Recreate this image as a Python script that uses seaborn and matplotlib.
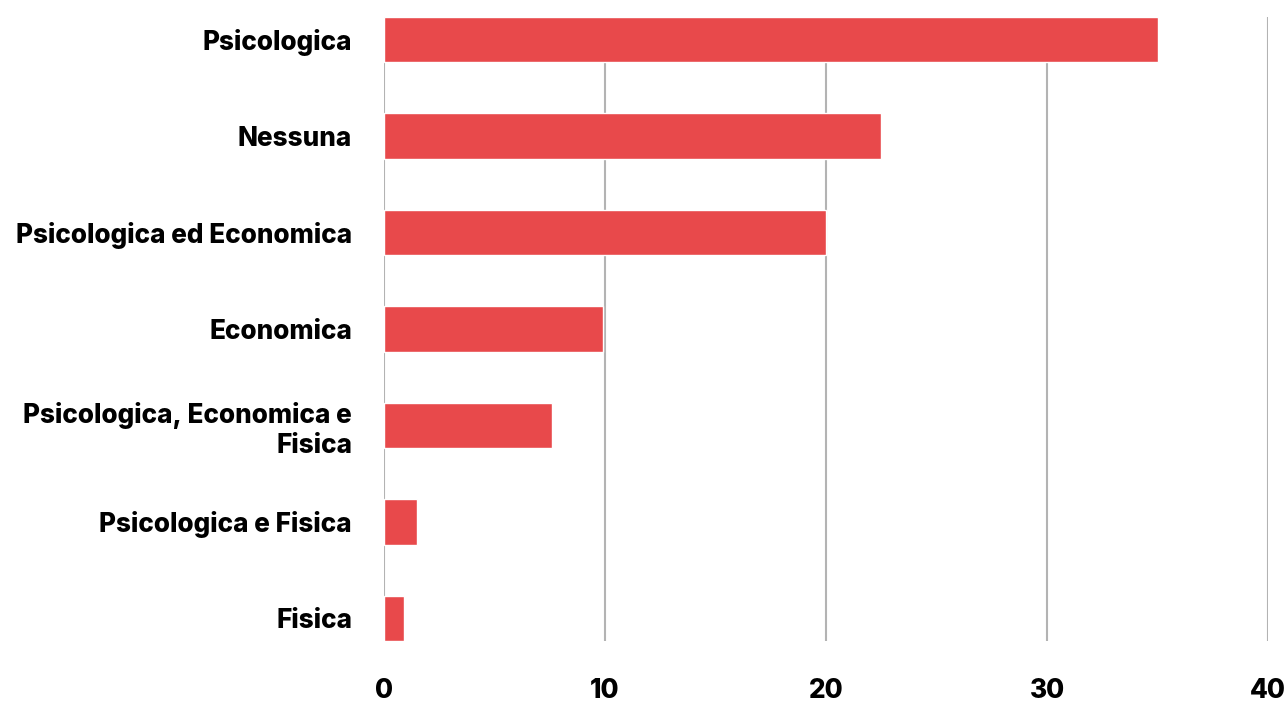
import matplotlib
matplotlib.use("Agg")
import matplotlib.pyplot as plt
import seaborn as sns
import pandas as pd

categories = ["Psicologica", "Nessuna", "Psicologica ed Economica", "Economica",
              "Psicologica, Economica e\nFisica", "Psicologica e Fisica", "Fisica"]
values = [35.0, 22.5, 20.0, 9.9, 7.6, 1.5, 0.9]
xticks = [0, 10, 20, 30, 40]

df = pd.DataFrame({"cat": categories, "val": values})

sns.set_theme(style="white")
plt.rcParams['font.family'] = ['Inter', 'DejaVu Sans']

fig = plt.figure(figsize=(12.87, 7.02), dpi=100)
ax = fig.add_axes([384/1287, 1 - 641/702, (1268-384)/1287, (641-17)/702])

sns.barplot(data=df, x="val", y="cat", orient="h", color="#E8494B",
            saturation=1, width=0.47, ax=ax)

ax.set_xlim(0, 40)
ax.set_ylim(len(categories) - 1 + 0.235, -0.235)
ax.set_xticks(xticks)
ax.set_xticklabels([str(t) for t in xticks])
ax.xaxis.grid(True, color="#b3b3b3", linewidth=1.5)
ax.set_axisbelow(True)
for s in ax.spines.values():
    s.set_visible(False)
ax.set_xlabel("")
ax.set_ylabel("")
ax.tick_params(axis="y", length=0, pad=23, labelsize=18.8)
ax.tick_params(axis="x", length=0, pad=27, labelsize=18.8)
for lab in ax.get_yticklabels() + ax.get_xticklabels():
    lab.set_fontweight("heavy")
    lab.set_color("black")
for lab in ax.get_yticklabels():
    lab.set_multialignment("right")

fig.savefig("out.png", dpi=100)
